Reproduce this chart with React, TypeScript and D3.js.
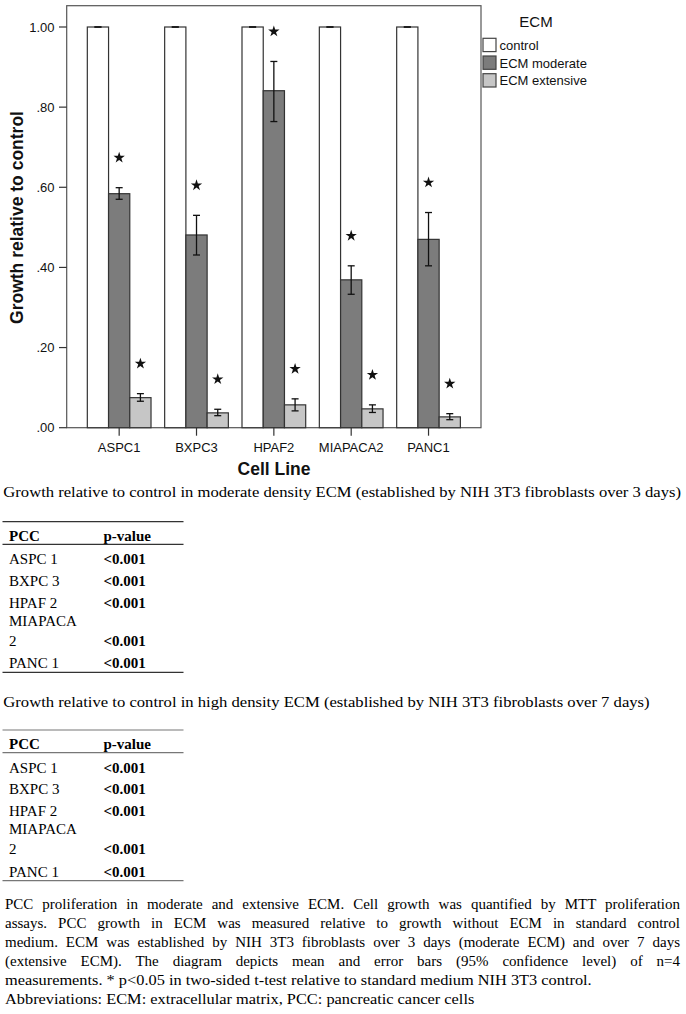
import React, { useLayoutEffect, useRef } from 'react';
import * as d3 from 'd3';

// ---------- data ----------
const categories = ['ASPC1', 'BXPC3', 'HPAF2', 'MIAPACA2', 'PANC1'];
const seriesNames = ['control', 'ECM moderate', 'ECM extensive'];
const seriesColors = ['#ffffff', '#7c7c7c', '#c6c6c6'];

const controlMean = [1.0, 1.0, 1.0, 1.0, 1.0];
const controlLo = [1.0, 1.0, 1.0, 1.0, 1.0];
const controlHi = [1.0, 1.0, 1.0, 1.0, 1.0];

const moderateMean = [0.584, 0.481, 0.841, 0.369, 0.47];
const moderateLo = [0.57, 0.431, 0.764, 0.333, 0.404];
const moderateHi = [0.599, 0.53, 0.914, 0.404, 0.537];

const extensiveMean = [0.075, 0.037, 0.057, 0.047, 0.027];
const extensiveLo = [0.066, 0.03, 0.042, 0.038, 0.02];
const extensiveHi = [0.085, 0.046, 0.072, 0.057, 0.035];

// significance flags (star drawn above error bar)
const moderateSig = [true, true, true, true, true];
const extensiveSig = [true, true, true, true, true];

const yTicks = [0, 0.2, 0.4, 0.6, 0.8, 1.0];
const yTickLabels = ['.00', '.20', '.40', '.60', '.80', '1.00'];

const tableNames = [['ASPC 1'], ['BXPC 3'], ['HPAF 2'], ['MIAPACA', '2'], ['PANC 1']];
const moderatePValues = ['<0.001', '<0.001', '<0.001', '<0.001', '<0.001'];
const extensivePValues = ['<0.001', '<0.001', '<0.001', '<0.001', '<0.001'];

const caption1 = 'Growth relative to control in moderate density ECM (established by NIH 3T3 fibroblasts over 3 days)';
const caption2 = 'Growth relative to control in high density ECM (established by NIH 3T3 fibroblasts over 7 days)';
const paragraph = [
  { t: 'PCC proliferation in moderate and extensive ECM. Cell growth was quantified by MTT proliferation', w: 675 },
  { t: 'assays. PCC growth in ECM was measured relative to growth without ECM in standard control', w: 675 },
  { t: 'medium. ECM was established by NIH 3T3 fibroblasts over 3 days (moderate ECM) and over 7 days', w: 675 },
  { t: '(extensive ECM). The diagram depicts mean and error bars (95% confidence level) of n=4', w: 675 },
  { t: 'measurements. * p<0.05 in two-sided t-test relative to standard medium NIH 3T3 control.', w: 586.7, fit: true },
  { t: 'Abbreviations: ECM: extracellular matrix, PCC: pancreatic cancer cells', w: 469.3, fit: true },
];

const SANS = 'Arial, "Liberation Sans", Helvetica, sans-serif';
const SERIF = '"Times New Roman", "Liberation Serif", Times, serif';

function PTable({ top, values, ruleColor }: { top: number; values: string[]; ruleColor: string }) {
  const rowBaselines = [42.6, 64.3, 86.3, 124.3, 146.6];
  const lines: React.ReactNode[] = [];
  tableNames.forEach((names, i) => {
    const base = top + rowBaselines[i];
    if (names.length === 2) {
      lines.push(
        <text key={'n' + i + 'a'} x={9} y={base - 20} fontFamily={SERIF} fontSize={15}>{names[0]}</text>
      );
      lines.push(
        <text key={'n' + i + 'b'} x={9} y={base} fontFamily={SERIF} fontSize={15}>{names[1]}</text>
      );
    } else {
      lines.push(
        <text key={'n' + i} x={9} y={base} fontFamily={SERIF} fontSize={15}>{names[0]}</text>
      );
    }
    lines.push(
      <text key={'v' + i} x={103.5} y={base} fontFamily={SERIF} fontSize={15} fontWeight="bold">{values[i]}</text>
    );
  });
  return (
    <g>
      <line x1={2.5} x2={183.5} y1={top} y2={top} stroke={ruleColor} strokeWidth={1.2} />
      <text x={9} y={top + 19.3} fontFamily={SERIF} fontSize={15} fontWeight="bold">PCC</text>
      <text x={103.5} y={top + 19.3} fontFamily={SERIF} fontSize={15} fontWeight="bold">p-value</text>
      <line x1={2.5} x2={183.5} y1={top + 22.6} y2={top + 22.6} stroke={ruleColor} strokeWidth={1.2} />
      {lines}
      <line x1={2.5} x2={183.5} y1={top + 150.6} y2={top + 150.6} stroke={ruleColor} strokeWidth={1.2} />
    </g>
  );
}

export default function App() {
  const W = 686;
  const H = 1014;
  const frame = { left: 66.7, right: 481, top: 5.7, bottom: 427.7 };

  const x0 = d3.scaleBand<string>().domain(categories).range([80.5, 467.2]).padding(0);
  const groupW = 63.7;
  const x1 = d3.scaleBand<string>().domain(seriesNames).range([0, groupW]).padding(0);
  const y = d3.scaleLinear().domain([0, 1]).range([frame.bottom, 27]);

  const means = [controlMean, moderateMean, extensiveMean];
  const los = [controlLo, moderateLo, extensiveLo];
  const his = [controlHi, moderateHi, extensiveHi];
  const sigs = [null, moderateSig, extensiveSig];

  const starPath = d3.symbol().type(d3.symbolStar).size(40)() as string;

  const paraRefs = useRef<(SVGTextElement | null)[]>([]);
  useLayoutEffect(() => {
    paragraph.forEach((p, i) => {
      const el = paraRefs.current[i];
      if (!el || p.fit) return;
      el.style.wordSpacing = '0px';
      const len = el.getComputedTextLength();
      const spaces = (p.t.match(/ /g) || []).length;
      if (spaces > 0) el.style.wordSpacing = (p.w - len) / spaces + 'px';
    });
  }, []);

  const bars: React.ReactNode[] = [];
  categories.forEach((c, ci) => {
    const gx = (x0(c) as number) + (x0.bandwidth() - groupW) / 2;
    seriesNames.forEach((s, si) => {
      const bx = gx + (x1(s) as number);
      const bw = x1.bandwidth();
      const m = means[si][ci];
      const cx = bx + bw / 2;
      bars.push(
        <rect key={`b${ci}-${si}`} x={bx} y={y(m)} width={bw} height={frame.bottom - y(m)}
          fill={seriesColors[si]} stroke="#333" strokeWidth={1.2} />
      );
      const lo = los[si][ci];
      const hi = his[si][ci];
      bars.push(
        <g key={`e${ci}-${si}`} stroke="#111" strokeWidth={1.3}>
          <line x1={cx} x2={cx} y1={y(lo)} y2={y(hi)} />
          <line x1={cx - 3.5} x2={cx + 3.5} y1={y(lo)} y2={y(lo)} />
          <line x1={cx - 3.5} x2={cx + 3.5} y1={y(hi)} y2={y(hi)} />
        </g>
      );
      const sg = sigs[si];
      if (sg && sg[ci]) {
        bars.push(
          <path key={`s${ci}-${si}`} d={starPath} transform={`translate(${cx},${y(hi) - 30})`} fill="#111" />
        );
      }
    });
  });

  const legendY = [38.3, 56, 73.7];

  return (
    <svg width={W} height={H} viewBox={`0 0 ${W} ${H}`}
      style={{ position: 'absolute', left: 0, top: 0, background: '#fff' }}>
      <rect x={0} y={0} width={W} height={H} fill="#fff" />
      {/* plot frame */}
      <rect x={frame.left} y={frame.top} width={frame.right - frame.left} height={frame.bottom - frame.top}
        fill="#fff" stroke="#555" strokeWidth={1.2} />
      {bars}
      {/* y axis ticks */}
      {yTicks.map((t, i) => (
        <g key={'yt' + i}>
          <line x1={59} x2={frame.left} y1={y(t)} y2={y(t)} stroke="#333" strokeWidth={1.2} />
          <text x={54.5} y={y(t)} dy="0.35em" textAnchor="end" fontFamily={SANS} fontSize={13} fill="#111">
            {yTickLabels[i]}
          </text>
        </g>
      ))}
      {/* x axis ticks */}
      {categories.map((c) => {
        const cx = (x0(c) as number) + x0.bandwidth() / 2;
        return (
          <g key={'xt' + c}>
            <line x1={cx} x2={cx} y1={frame.bottom} y2={frame.bottom + 8} stroke="#333" strokeWidth={1.2} />
            <text x={cx} y={451.7} textAnchor="middle" fontFamily={SANS} fontSize={13} fill="#111">{c}</text>
          </g>
        );
      })}
      <text x={274} y={475} textAnchor="middle" fontFamily={SANS} fontSize={17.5} fontWeight="bold" fill="#111">
        Cell Line
      </text>
      <text transform="translate(22.5,217.5) rotate(-90)" textAnchor="middle" fontFamily={SANS} fontSize={17.5}
        fontWeight="bold" fill="#111">
        Growth relative to control
      </text>
      {/* legend */}
      <text x={536} y={26.7} textAnchor="middle" fontFamily={SANS} fontSize={15} fill="#111">ECM</text>
      {seriesNames.map((s, i) => (
        <g key={'lg' + i}>
          <rect x={483} y={legendY[i]} width={13} height={13.3} fill={seriesColors[i]} stroke="#444" strokeWidth={1.2} />
          <text x={499.5} y={legendY[i] + 11.7} fontFamily={SANS} fontSize={13} fill="#111">{s}</text>
        </g>
      ))}

      {/* captions and tables */}
      <text x={3.3} y={497.3} fontFamily={SERIF} fontSize={15} fill="#000" textLength={677.7}
        lengthAdjust="spacingAndGlyphs">{caption1}</text>
      <PTable top={521.7} values={moderatePValues} ruleColor="#333" />
      <text x={3.3} y={706.7} fontFamily={SERIF} fontSize={15} fill="#000" textLength={646.3}
        lengthAdjust="spacingAndGlyphs">{caption2}</text>
      <PTable top={730} values={extensivePValues} ruleColor="#777" />

      {paragraph.map((p, i) => (
        <text key={'p' + i} ref={(el) => { paraRefs.current[i] = el; }} x={5} y={909.3 + i * 19}
          fontFamily={SERIF} fontSize={15} fill="#000"
          {...(p.fit ? { textLength: p.w, lengthAdjust: 'spacingAndGlyphs' } : {})}>
          {p.t}
        </text>
      ))}
    </svg>
  );
}
